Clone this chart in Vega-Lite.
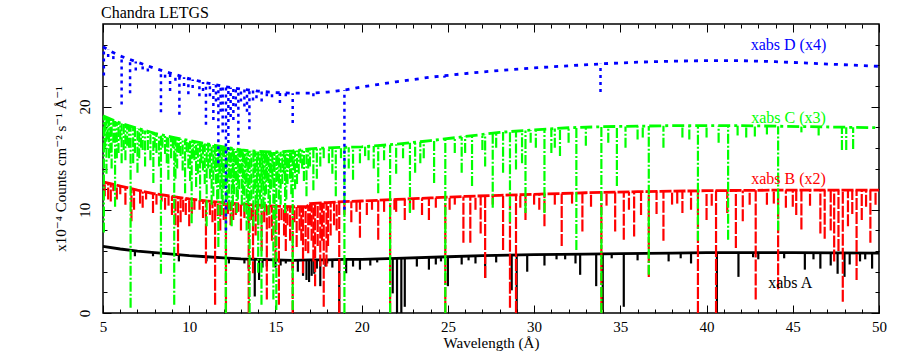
{
"$schema": "https://vega.github.io/schema/vega-lite/v6.json",
"width": 776, "height": 289,
"autosize": "none",
"padding": {"left": 103, "top": 24, "right": 26, "bottom": 41},
"background": "white",
"config": {"view": {"stroke": "black", "strokeWidth": 1.5}, "font": "Times New Roman, Liberation Serif, DejaVu Serif, serif"},
"datasets": {
"cont": [
{"s":"A","x":5,"y":6.45},{"s":"A","x":6,"y":6.2},{"s":"A","x":7,"y":6.0},{"s":"A","x":8,"y":5.85},{"s":"A","x":9,"y":5.7},{"s":"A","x":10,"y":5.55},{"s":"A","x":11,"y":5.45},{"s":"A","x":12,"y":5.35},{"s":"A","x":13,"y":5.25},{"s":"A","x":14,"y":5.2},{"s":"A","x":15,"y":5.15},{"s":"A","x":16,"y":5.1},{"s":"A","x":17,"y":5.15},{"s":"A","x":18,"y":5.15},{"s":"A","x":19,"y":5.2},{"s":"A","x":20,"y":5.2},{"s":"A","x":22,"y":5.3},{"s":"A","x":25,"y":5.45},{"s":"A","x":27,"y":5.55},{"s":"A","x":30,"y":5.65},{"s":"A","x":33,"y":5.7},{"s":"A","x":35,"y":5.75},{"s":"A","x":38,"y":5.8},{"s":"A","x":40,"y":5.85},{"s":"A","x":45,"y":5.85},{"s":"A","x":50,"y":5.8},
{"s":"B","x":5,"y":12.7},{"s":"B","x":6,"y":12.3},{"s":"B","x":7,"y":11.9},{"s":"B","x":8,"y":11.55},{"s":"B","x":9,"y":11.3},{"s":"B","x":10,"y":11.05},{"s":"B","x":11,"y":10.85},{"s":"B","x":12,"y":10.7},{"s":"B","x":13,"y":10.55},{"s":"B","x":14,"y":10.45},{"s":"B","x":15,"y":10.35},{"s":"B","x":16,"y":10.3},{"s":"B","x":16.8,"y":10.3},{"s":"B","x":17,"y":10.6},{"s":"B","x":18,"y":10.7},{"s":"B","x":19,"y":10.8},{"s":"B","x":20,"y":10.85},{"s":"B","x":22,"y":11.0},{"s":"B","x":24,"y":11.15},{"s":"B","x":26,"y":11.3},{"s":"B","x":28,"y":11.4},{"s":"B","x":30,"y":11.5},{"s":"B","x":33,"y":11.65},{"s":"B","x":36,"y":11.75},{"s":"B","x":40,"y":11.85},{"s":"B","x":44,"y":11.9},{"s":"B","x":50,"y":11.9},
{"s":"C","x":5,"y":19.1},{"s":"C","x":6,"y":18.4},{"s":"C","x":7,"y":17.9},{"s":"C","x":8,"y":17.4},{"s":"C","x":9,"y":17.05},{"s":"C","x":10,"y":16.7},{"s":"C","x":11,"y":16.4},{"s":"C","x":12,"y":16.1},{"s":"C","x":13,"y":15.8},{"s":"C","x":14,"y":15.65},{"s":"C","x":15,"y":15.6},{"s":"C","x":16,"y":15.7},{"s":"C","x":17,"y":15.9},{"s":"C","x":18,"y":16.0},{"s":"C","x":20,"y":16.1},{"s":"C","x":22,"y":16.35},{"s":"C","x":24,"y":16.7},{"s":"C","x":26,"y":17.1},{"s":"C","x":28,"y":17.5},{"s":"C","x":30,"y":17.75},{"s":"C","x":32,"y":17.95},{"s":"C","x":34,"y":18.05},{"s":"C","x":38,"y":18.15},{"s":"C","x":42,"y":18.15},{"s":"C","x":46,"y":18.05},{"s":"C","x":50,"y":17.95},
{"s":"D","x":5,"y":25.8},{"s":"D","x":5.5,"y":25.3},{"s":"D","x":6,"y":24.9},{"s":"D","x":7,"y":24.3},{"s":"D","x":8,"y":23.7},{"s":"D","x":9,"y":23.2},{"s":"D","x":10,"y":22.7},{"s":"D","x":11,"y":22.3},{"s":"D","x":12,"y":21.95},{"s":"D","x":13,"y":21.7},{"s":"D","x":14,"y":21.5},{"s":"D","x":15,"y":21.35},{"s":"D","x":16,"y":21.3},{"s":"D","x":17,"y":21.3},{"s":"D","x":18,"y":21.4},{"s":"D","x":19,"y":21.6},{"s":"D","x":20,"y":21.9},{"s":"D","x":22,"y":22.4},{"s":"D","x":24,"y":22.85},{"s":"D","x":26,"y":23.2},{"s":"D","x":28,"y":23.5},{"s":"D","x":30,"y":23.75},{"s":"D","x":32,"y":23.95},{"s":"D","x":34,"y":24.15},{"s":"D","x":36,"y":24.3},{"s":"D","x":38,"y":24.4},{"s":"D","x":40,"y":24.45},{"s":"D","x":42,"y":24.45},{"s":"D","x":44,"y":24.35},{"s":"D","x":46,"y":24.2},{"s":"D","x":48,"y":24.05},{"s":"D","x":50,"y":23.9}
],
"abs": [
{"s":"A","x":6.85,"y":6.03,"y2":5.5},{"s":"A","x":7.9,"y":5.87,"y2":5.5},{"s":"A","x":9.4,"y":5.64,"y2":5.0},{"s":"A","x":11.0,"y":5.45,"y2":5.0},{"s":"A","x":12.3,"y":5.32,"y2":4.8},{"s":"A","x":13.2,"y":5.24,"y2":4.8},{"s":"A","x":13.45,"y":5.23,"y2":4.3},{"s":"A","x":13.8,"y":5.21,"y2":1.6},{"s":"A","x":14.05,"y":5.2,"y2":3.2},{"s":"A","x":14.25,"y":5.19,"y2":4.4},{"s":"A","x":14.5,"y":5.18,"y2":4.5},{"s":"A","x":15.0,"y":5.15,"y2":4.4},{"s":"A","x":15.3,"y":5.14,"y2":4.6},{"s":"A","x":15.6,"y":5.12,"y2":4.8},{"s":"A","x":16.0,"y":5.1,"y2":4.2},{"s":"A","x":16.3,"y":5.11,"y2":4.0},{"s":"A","x":16.6,"y":5.13,"y2":3.6},{"s":"A","x":16.8,"y":5.14,"y2":3.2},{"s":"A","x":16.95,"y":5.15,"y2":3.0},{"s":"A","x":17.1,"y":5.15,"y2":3.6},{"s":"A","x":17.25,"y":5.15,"y2":3.8},{"s":"A","x":17.4,"y":5.15,"y2":4.3},{"s":"A","x":17.6,"y":5.15,"y2":2.6},{"s":"A","x":17.9,"y":5.15,"y2":4.5},{"s":"A","x":18.0,"y":5.15,"y2":4.8},{"s":"A","x":18.3,"y":5.17,"y2":4.4},{"s":"A","x":18.7,"y":5.19,"y2":0},{"s":"A","x":19.1,"y":5.2,"y2":3.85},{"s":"A","x":19.5,"y":5.2,"y2":4.5},{"s":"A","x":19.9,"y":5.2,"y2":4.2},{"s":"A","x":20.5,"y":5.23,"y2":4.6},{"s":"A","x":20.9,"y":5.25,"y2":4.9},{"s":"A","x":21.8,"y":5.29,"y2":1.9},{"s":"A","x":22.05,"y":5.3,"y2":0},{"s":"A","x":22.3,"y":5.32,"y2":0},{"s":"A","x":22.5,"y":5.33,"y2":0.6},{"s":"A","x":23.2,"y":5.36,"y2":4.5},{"s":"A","x":23.9,"y":5.4,"y2":4.2},{"s":"A","x":24.3,"y":5.42,"y2":4.7},{"s":"A","x":24.6,"y":5.43,"y2":5.0},{"s":"A","x":25.0,"y":5.45,"y2":2.6},{"s":"A","x":25.8,"y":5.49,"y2":4.7},{"s":"A","x":26.2,"y":5.51,"y2":5.1},{"s":"A","x":26.6,"y":5.53,"y2":4.8},{"s":"A","x":27.16,"y":5.56,"y2":3.4},{"s":"A","x":27.8,"y":5.58,"y2":4.9},{"s":"A","x":28.7,"y":5.61,"y2":2.2},{"s":"A","x":28.99,"y":5.62,"y2":0},{"s":"A","x":29.6,"y":5.64,"y2":4.0},{"s":"A","x":30.6,"y":5.66,"y2":4.6},{"s":"A","x":31.3,"y":5.67,"y2":5.2},{"s":"A","x":31.8,"y":5.68,"y2":5.2},{"s":"A","x":32.4,"y":5.69,"y2":4.8},{"s":"A","x":32.67,"y":5.7,"y2":3.7},{"s":"A","x":33.6,"y":5.72,"y2":2.6},{"s":"A","x":33.98,"y":5.72,"y2":0.3},{"s":"A","x":34.5,"y":5.74,"y2":5.3},{"s":"A","x":35.2,"y":5.75,"y2":0.6},{"s":"A","x":36.0,"y":5.77,"y2":5.1},{"s":"A","x":37.8,"y":5.8,"y2":5.0},{"s":"A","x":38.5,"y":5.81,"y2":5.3},{"s":"A","x":39.1,"y":5.83,"y2":4.8},{"s":"A","x":40.6,"y":5.85,"y2":0},{"s":"A","x":41.85,"y":5.85,"y2":3.5},{"s":"A","x":42.7,"y":5.85,"y2":5.4},{"s":"A","x":43.0,"y":5.85,"y2":5.2},{"s":"A","x":44.5,"y":5.85,"y2":5.3},{"s":"A","x":45.7,"y":5.84,"y2":4.2},{"s":"A","x":46.2,"y":5.84,"y2":5.2},{"s":"A","x":46.6,"y":5.83,"y2":4.3},{"s":"A","x":47.2,"y":5.83,"y2":4.6},{"s":"A","x":47.6,"y":5.82,"y2":3.8},{"s":"A","x":48.0,"y":5.82,"y2":3.5},{"s":"A","x":48.3,"y":5.82,"y2":4.7},{"s":"A","x":48.9,"y":5.81,"y2":5.0},{"s":"A","x":49.2,"y":5.81,"y2":5.2},{"s":"A","x":49.6,"y":5.8,"y2":4.3},
{"s":"B","x":5.1,"y":12.66,"y2":11.3},{"s":"B","x":5.3,"y":12.58,"y2":11.0},{"s":"B","x":5.45,"y":12.52,"y2":10.8},{"s":"B","x":5.6,"y":12.46,"y2":11.8},{"s":"B","x":5.8,"y":12.38,"y2":11.0},{"s":"B","x":6.0,"y":12.3,"y2":11.5},{"s":"B","x":6.3,"y":12.18,"y2":10.5},{"s":"B","x":6.65,"y":12.04,"y2":8.9},{"s":"B","x":6.8,"y":11.98,"y2":10.0},{"s":"B","x":7.15,"y":11.85,"y2":10.6},{"s":"B","x":7.3,"y":11.78,"y2":10.2},{"s":"B","x":7.5,"y":11.73,"y2":11.0},{"s":"B","x":7.9,"y":11.59,"y2":9.7},{"s":"B","x":8.1,"y":11.53,"y2":10.5},{"s":"B","x":8.4,"y":11.45,"y2":10.8},{"s":"B","x":8.6,"y":11.4,"y2":10.0},{"s":"B","x":8.8,"y":11.35,"y2":10.4},{"s":"B","x":9.0,"y":11.3,"y2":9.5},{"s":"B","x":9.2,"y":11.25,"y2":8.5},{"s":"B","x":9.35,"y":11.21,"y2":5.6},{"s":"B","x":9.5,"y":11.18,"y2":8.8},{"s":"B","x":9.65,"y":11.14,"y2":9.8},{"s":"B","x":9.8,"y":11.1,"y2":9.5},{"s":"B","x":10.0,"y":11.05,"y2":8.4},{"s":"B","x":10.15,"y":11.02,"y2":9.6},{"s":"B","x":10.3,"y":10.99,"y2":10.0},{"s":"B","x":10.6,"y":10.93,"y2":10.0},{"s":"B","x":10.8,"y":10.89,"y2":9.2},{"s":"B","x":10.97,"y":10.86,"y2":4.8},{"s":"B","x":11.2,"y":10.82,"y2":9.5},{"s":"B","x":11.35,"y":10.8,"y2":8.8},{"s":"B","x":11.5,"y":10.78,"y2":0.8},{"s":"B","x":11.65,"y":10.76,"y2":9.4},{"s":"B","x":11.8,"y":10.73,"y2":8.0},{"s":"B","x":12.0,"y":10.7,"y2":9.0},{"s":"B","x":12.13,"y":10.68,"y2":0},{"s":"B","x":12.25,"y":10.66,"y2":9.6},{"s":"B","x":12.4,"y":10.64,"y2":8.5},{"s":"B","x":12.55,"y":10.62,"y2":9.0},{"s":"B","x":12.7,"y":10.6,"y2":9.5},{"s":"B","x":12.85,"y":10.57,"y2":9.8},{"s":"B","x":13.0,"y":10.55,"y2":8.0},{"s":"B","x":13.2,"y":10.53,"y2":9.2},{"s":"B","x":13.45,"y":10.5,"y2":0},{"s":"B","x":13.6,"y":10.49,"y2":9.0},{"s":"B","x":13.7,"y":10.48,"y2":3.85},{"s":"B","x":13.85,"y":10.47,"y2":7.5},{"s":"B","x":14.0,"y":10.45,"y2":8.5},{"s":"B","x":14.2,"y":10.43,"y2":6.0},{"s":"B","x":14.35,"y":10.42,"y2":8.8},{"s":"B","x":14.5,"y":10.4,"y2":1.3},{"s":"B","x":14.65,"y":10.38,"y2":8.2},{"s":"B","x":14.8,"y":10.37,"y2":7.0},{"s":"B","x":15.0,"y":10.35,"y2":5.0},{"s":"B","x":15.2,"y":10.34,"y2":0.8},{"s":"B","x":15.35,"y":10.33,"y2":9.0},{"s":"B","x":15.5,"y":10.33,"y2":7.5},{"s":"B","x":15.6,"y":10.32,"y2":6.0},{"s":"B","x":15.7,"y":10.32,"y2":8.5},{"s":"B","x":15.85,"y":10.31,"y2":7.0},{"s":"B","x":16.0,"y":10.3,"y2":0},{"s":"B","x":16.1,"y":10.3,"y2":8.8},{"s":"B","x":16.23,"y":10.3,"y2":6.4},{"s":"B","x":16.4,"y":10.3,"y2":8.0},{"s":"B","x":16.5,"y":10.3,"y2":7.0},{"s":"B","x":16.6,"y":10.3,"y2":3.85},{"s":"B","x":16.75,"y":10.3,"y2":6.0},{"s":"B","x":16.9,"y":10.45,"y2":5.8},{"s":"B","x":17.0,"y":10.6,"y2":8.5},{"s":"B","x":17.1,"y":10.61,"y2":7.0},{"s":"B","x":17.2,"y":10.62,"y2":5.0},{"s":"B","x":17.3,"y":10.63,"y2":2.6},{"s":"B","x":17.45,"y":10.65,"y2":6.5},{"s":"B","x":17.6,"y":10.66,"y2":4.5},{"s":"B","x":17.7,"y":10.67,"y2":7.0},{"s":"B","x":17.8,"y":10.68,"y2":0.6},{"s":"B","x":17.96,"y":10.7,"y2":4.5},{"s":"B","x":18.05,"y":10.71,"y2":6.5},{"s":"B","x":18.2,"y":10.72,"y2":7.5},{"s":"B","x":18.4,"y":10.74,"y2":8.5},{"s":"B","x":18.55,"y":10.75,"y2":8.0},{"s":"B","x":18.7,"y":10.77,"y2":0},{"s":"B","x":19.0,"y":10.8,"y2":9.5},{"s":"B","x":19.4,"y":10.82,"y2":8.8},{"s":"B","x":19.7,"y":10.84,"y2":9.8},{"s":"B","x":19.9,"y":10.85,"y2":7.3},{"s":"B","x":20.3,"y":10.87,"y2":9.5},{"s":"B","x":20.6,"y":10.89,"y2":10.0},{"s":"B","x":20.96,"y":10.92,"y2":7.1},{"s":"B","x":21.3,"y":10.95,"y2":9.8},{"s":"B","x":21.65,"y":10.97,"y2":0},{"s":"B","x":21.9,"y":10.99,"y2":10.0},{"s":"B","x":22.0,"y":11.0,"y2":9.8},{"s":"B","x":22.5,"y":11.04,"y2":9.0},{"s":"B","x":22.8,"y":11.06,"y2":9.8},{"s":"B","x":23.0,"y":11.08,"y2":10.0},{"s":"B","x":23.5,"y":11.11,"y2":9.5},{"s":"B","x":23.9,"y":11.14,"y2":9.0},{"s":"B","x":24.3,"y":11.17,"y2":10.2},{"s":"B","x":24.85,"y":11.21,"y2":0},{"s":"B","x":25.1,"y":11.23,"y2":10.0},{"s":"B","x":25.4,"y":11.26,"y2":10.5},{"s":"B","x":25.9,"y":11.29,"y2":6.8},{"s":"B","x":26.3,"y":11.32,"y2":6.8},{"s":"B","x":26.6,"y":11.33,"y2":10.0},{"s":"B","x":26.9,"y":11.35,"y2":7.7},{"s":"B","x":27.16,"y":11.36,"y2":3.4},{"s":"B","x":27.6,"y":11.38,"y2":10.5},{"s":"B","x":28.2,"y":11.41,"y2":6.1},{"s":"B","x":28.6,"y":11.43,"y2":0.5},{"s":"B","x":28.95,"y":11.45,"y2":0},{"s":"B","x":29.2,"y":11.46,"y2":10.2},{"s":"B","x":29.5,"y":11.48,"y2":9.0},{"s":"B","x":30.0,"y":11.5,"y2":10.5},{"s":"B","x":30.3,"y":11.51,"y2":10.0},{"s":"B","x":30.6,"y":11.53,"y2":8.4},{"s":"B","x":31.2,"y":11.56,"y2":10.5},{"s":"B","x":31.6,"y":11.58,"y2":6.5},{"s":"B","x":32.2,"y":11.61,"y2":10.6},{"s":"B","x":32.8,"y":11.64,"y2":7.9},{"s":"B","x":33.3,"y":11.66,"y2":10.3},{"s":"B","x":33.9,"y":11.68,"y2":0},{"s":"B","x":34.2,"y":11.69,"y2":10.4},{"s":"B","x":34.7,"y":11.71,"y2":7.9},{"s":"B","x":35.2,"y":11.72,"y2":7.1},{"s":"B","x":35.5,"y":11.73,"y2":10.0},{"s":"B","x":35.8,"y":11.74,"y2":7.4},{"s":"B","x":36.2,"y":11.76,"y2":9.5},{"s":"B","x":36.65,"y":11.77,"y2":3.5},{"s":"B","x":37.1,"y":11.78,"y2":9.6},{"s":"B","x":37.5,"y":11.79,"y2":7.0},{"s":"B","x":38.0,"y":11.8,"y2":10.5},{"s":"B","x":38.3,"y":11.81,"y2":10.6},{"s":"B","x":38.6,"y":11.82,"y2":9.7},{"s":"B","x":39.1,"y":11.83,"y2":10.0},{"s":"B","x":39.5,"y":11.84,"y2":0},{"s":"B","x":40.0,"y":11.85,"y2":9.0},{"s":"B","x":40.3,"y":11.85,"y2":10.4},{"s":"B","x":40.55,"y":11.86,"y2":0},{"s":"B","x":41.2,"y":11.87,"y2":9.7},{"s":"B","x":41.7,"y":11.87,"y2":6.3},{"s":"B","x":42.1,"y":11.88,"y2":8.9},{"s":"B","x":42.5,"y":11.88,"y2":10.5},{"s":"B","x":42.85,"y":11.89,"y2":1.3},{"s":"B","x":43.5,"y":11.89,"y2":10.5},{"s":"B","x":43.9,"y":11.9,"y2":10.6},{"s":"B","x":44.15,"y":11.9,"y2":2.3},{"s":"B","x":44.6,"y":11.9,"y2":10.2},{"s":"B","x":45.0,"y":11.9,"y2":10.3},{"s":"B","x":45.2,"y":11.9,"y2":9.5},{"s":"B","x":45.5,"y":11.9,"y2":8.1},{"s":"B","x":46.0,"y":11.9,"y2":10.4},{"s":"B","x":46.6,"y":11.9,"y2":7.7},{"s":"B","x":46.85,"y":11.9,"y2":7.2},{"s":"B","x":47.2,"y":11.9,"y2":8.0},{"s":"B","x":47.4,"y":11.9,"y2":5.0},{"s":"B","x":47.65,"y":11.9,"y2":6.0},{"s":"B","x":47.9,"y":11.9,"y2":1.1},{"s":"B","x":48.2,"y":11.9,"y2":8.4},{"s":"B","x":48.45,"y":11.9,"y2":9.6},{"s":"B","x":48.7,"y":11.9,"y2":3.2},{"s":"B","x":49.0,"y":11.9,"y2":9.0},{"s":"B","x":49.25,"y":11.9,"y2":10.3},{"s":"B","x":49.5,"y":11.9,"y2":6.8},{"s":"B","x":49.8,"y":11.9,"y2":10.5},
{"s":"C","x":5.05,"y":19.06,"y2":7.8},{"s":"C","x":5.12,"y":19.0,"y2":16.0},{"s":"C","x":5.2,"y":18.96,"y2":13.5},{"s":"C","x":5.27,"y":18.9,"y2":16.8},{"s":"C","x":5.35,"y":18.86,"y2":15.0},{"s":"C","x":5.43,"y":18.8,"y2":15.5},{"s":"C","x":5.5,"y":18.75,"y2":14.0},{"s":"C","x":5.6,"y":18.68,"y2":16.5},{"s":"C","x":5.7,"y":18.61,"y2":10.3},{"s":"C","x":5.8,"y":18.54,"y2":15.0},{"s":"C","x":5.9,"y":18.47,"y2":15.5},{"s":"C","x":6.0,"y":18.4,"y2":16.8},{"s":"C","x":6.08,"y":18.36,"y2":14.5},{"s":"C","x":6.2,"y":18.3,"y2":15.8},{"s":"C","x":6.3,"y":18.25,"y2":14.8},{"s":"C","x":6.4,"y":18.2,"y2":16.2},{"s":"C","x":6.5,"y":18.15,"y2":16.0},{"s":"C","x":6.6,"y":18.1,"y2":0.5},{"s":"C","x":6.75,"y":18.02,"y2":14.5},{"s":"C","x":6.85,"y":17.98,"y2":15.5},{"s":"C","x":7.0,"y":17.9,"y2":13.6},{"s":"C","x":7.1,"y":17.85,"y2":15.0},{"s":"C","x":7.2,"y":17.8,"y2":16.0},{"s":"C","x":7.3,"y":17.75,"y2":15.8},{"s":"C","x":7.44,"y":17.68,"y2":14.2},{"s":"C","x":7.6,"y":17.6,"y2":15.8},{"s":"C","x":7.75,"y":17.52,"y2":14.8},{"s":"C","x":7.92,"y":17.44,"y2":12.6},{"s":"C","x":8.0,"y":17.4,"y2":16.0},{"s":"C","x":8.1,"y":17.36,"y2":15.5},{"s":"C","x":8.25,"y":17.3,"y2":14.2},{"s":"C","x":8.36,"y":17.26,"y2":3.8},{"s":"C","x":8.45,"y":17.22,"y2":16.0},{"s":"C","x":8.6,"y":17.16,"y2":15.4},{"s":"C","x":8.7,"y":17.12,"y2":14.5},{"s":"C","x":8.79,"y":17.08,"y2":12.9},{"s":"C","x":8.95,"y":17.02,"y2":15.0},{"s":"C","x":9.05,"y":17.02,"y2":16.0},{"s":"C","x":9.13,"y":17.0,"y2":0.8},{"s":"C","x":9.2,"y":16.98,"y2":13.0},{"s":"C","x":9.3,"y":16.95,"y2":14.0},{"s":"C","x":9.4,"y":16.92,"y2":15.5},{"s":"C","x":9.5,"y":16.88,"y2":15.2},{"s":"C","x":9.62,"y":16.83,"y2":13.8},{"s":"C","x":9.76,"y":16.78,"y2":11.6},{"s":"C","x":9.85,"y":16.75,"y2":15.6},{"s":"C","x":9.95,"y":16.72,"y2":14.0},{"s":"C","x":10.05,"y":16.68,"y2":12.8},{"s":"C","x":10.14,"y":16.66,"y2":8.7},{"s":"C","x":10.22,"y":16.63,"y2":15.0},{"s":"C","x":10.3,"y":16.61,"y2":14.8},{"s":"C","x":10.4,"y":16.58,"y2":12.2},{"s":"C","x":10.5,"y":16.55,"y2":13.5},{"s":"C","x":10.63,"y":16.51,"y2":10.9},{"s":"C","x":10.7,"y":16.49,"y2":14.5},{"s":"C","x":10.8,"y":16.46,"y2":13.8},{"s":"C","x":10.9,"y":16.43,"y2":12.5},{"s":"C","x":11.01,"y":16.4,"y2":8.4},{"s":"C","x":11.1,"y":16.37,"y2":14.0},{"s":"C","x":11.2,"y":16.34,"y2":13.0},{"s":"C","x":11.3,"y":16.31,"y2":10.5},{"s":"C","x":11.4,"y":16.28,"y2":11.3},{"s":"C","x":11.48,"y":16.26,"y2":13.8},{"s":"C","x":11.55,"y":16.24,"y2":12.5},{"s":"C","x":11.62,"y":16.22,"y2":11.0},{"s":"C","x":11.69,"y":16.19,"y2":6.4},{"s":"C","x":11.75,"y":16.18,"y2":13.5},{"s":"C","x":11.8,"y":16.16,"y2":12.0},{"s":"C","x":11.88,"y":16.14,"y2":9.5},{"s":"C","x":11.94,"y":16.12,"y2":10.5},{"s":"C","x":12.02,"y":16.09,"y2":12.0},{"s":"C","x":12.12,"y":16.06,"y2":0},{"s":"C","x":12.2,"y":16.04,"y2":11.0},{"s":"C","x":12.3,"y":16.01,"y2":10.0},{"s":"C","x":12.38,"y":15.99,"y2":13.0},{"s":"C","x":12.46,"y":15.96,"y2":8.4},{"s":"C","x":12.53,"y":15.94,"y2":10.5},{"s":"C","x":12.6,"y":15.92,"y2":11.5},{"s":"C","x":12.68,"y":15.9,"y2":12.8},{"s":"C","x":12.75,"y":15.88,"y2":9.7},{"s":"C","x":12.82,"y":15.86,"y2":11.0},{"s":"C","x":12.9,"y":15.83,"y2":12.0},{"s":"C","x":12.97,"y":15.81,"y2":13.5},{"s":"C","x":13.05,"y":15.79,"y2":10.5},{"s":"C","x":13.12,"y":15.78,"y2":11.5},{"s":"C","x":13.2,"y":15.77,"y2":9.8},{"s":"C","x":13.27,"y":15.76,"y2":12.5},{"s":"C","x":13.33,"y":15.75,"y2":8.0},{"s":"C","x":13.42,"y":15.73,"y2":9.0},{"s":"C","x":13.5,"y":15.72,"y2":0},{"s":"C","x":13.6,"y":15.71,"y2":11.0},{"s":"C","x":13.72,"y":15.69,"y2":8.4},{"s":"C","x":13.78,"y":15.68,"y2":12.0},{"s":"C","x":13.85,"y":15.67,"y2":10.5},{"s":"C","x":13.93,"y":15.66,"y2":9.5},{"s":"C","x":14.0,"y":15.65,"y2":3.9},{"s":"C","x":14.1,"y":15.64,"y2":11.0},{"s":"C","x":14.19,"y":15.64,"y2":0.8},{"s":"C","x":14.24,"y":15.64,"y2":12.5},{"s":"C","x":14.3,"y":15.64,"y2":10.3},{"s":"C","x":14.38,"y":15.63,"y2":9.8},{"s":"C","x":14.45,"y":15.63,"y2":11.5},{"s":"C","x":14.52,"y":15.62,"y2":12.8},{"s":"C","x":14.6,"y":15.62,"y2":9.5},{"s":"C","x":14.68,"y":15.61,"y2":10.5},{"s":"C","x":14.75,"y":15.61,"y2":12.0},{"s":"C","x":14.82,"y":15.6,"y2":13.0},{"s":"C","x":14.88,"y":15.6,"y2":1.3},{"s":"C","x":14.95,"y":15.6,"y2":9.0},{"s":"C","x":15.05,"y":15.6,"y2":0.3},{"s":"C","x":15.12,"y":15.61,"y2":12.8},{"s":"C","x":15.2,"y":15.62,"y2":11.0},{"s":"C","x":15.3,"y":15.63,"y2":10.5},{"s":"C","x":15.4,"y":15.64,"y2":12.5},{"s":"C","x":15.48,"y":15.65,"y2":13.5},{"s":"C","x":15.56,"y":15.66,"y2":9.7},{"s":"C","x":15.63,"y":15.66,"y2":11.0},{"s":"C","x":15.7,"y":15.67,"y2":12.5},{"s":"C","x":15.78,"y":15.68,"y2":14.0},{"s":"C","x":15.85,"y":15.69,"y2":13.0},{"s":"C","x":15.92,"y":15.7,"y2":11.5},{"s":"C","x":16.0,"y":15.7,"y2":0.3},{"s":"C","x":16.07,"y":15.71,"y2":13.8},{"s":"C","x":16.14,"y":15.73,"y2":12.0},{"s":"C","x":16.25,"y":15.75,"y2":12.5},{"s":"C","x":16.35,"y":15.77,"y2":13.5},{"s":"C","x":16.45,"y":15.79,"y2":14.5},{"s":"C","x":16.55,"y":15.81,"y2":14.0},{"s":"C","x":16.65,"y":15.83,"y2":12.8},{"s":"C","x":16.8,"y":15.86,"y2":11.3},{"s":"C","x":16.9,"y":15.88,"y2":14.0},{"s":"C","x":17.0,"y":15.9,"y2":14.2},{"s":"C","x":17.2,"y":15.92,"y2":11.9},{"s":"C","x":17.4,"y":15.94,"y2":13.0},{"s":"C","x":17.6,"y":15.96,"y2":14.2},{"s":"C","x":17.8,"y":15.98,"y2":15.0},{"s":"C","x":18.1,"y":16.0,"y2":14.5},{"s":"C","x":18.3,"y":16.02,"y2":13.5},{"s":"C","x":18.5,"y":16.03,"y2":11.3},{"s":"C","x":18.8,"y":16.04,"y2":15.0},{"s":"C","x":19.0,"y":16.05,"y2":0},{"s":"C","x":19.25,"y":16.06,"y2":14.0},{"s":"C","x":19.5,"y":16.08,"y2":12.9},{"s":"C","x":19.9,"y":16.1,"y2":14.5},{"s":"C","x":20.2,"y":16.12,"y2":15.2},{"s":"C","x":20.4,"y":16.15,"y2":14.8},{"s":"C","x":20.7,"y":16.18,"y2":14.0},{"s":"C","x":20.96,"y":16.22,"y2":11.6},{"s":"C","x":21.3,"y":16.26,"y2":14.8},{"s":"C","x":21.65,"y":16.31,"y2":0},{"s":"C","x":22.0,"y":16.35,"y2":13.5},{"s":"C","x":22.4,"y":16.42,"y2":15.0},{"s":"C","x":22.8,"y":16.49,"y2":9.7},{"s":"C","x":23.1,"y":16.54,"y2":13.6},{"s":"C","x":23.4,"y":16.6,"y2":14.5},{"s":"C","x":23.6,"y":16.63,"y2":15.0},{"s":"C","x":24.2,"y":16.74,"y2":12.6},{"s":"C","x":24.85,"y":16.87,"y2":0},{"s":"C","x":25.4,"y":16.98,"y2":15.5},{"s":"C","x":25.8,"y":17.06,"y2":13.6},{"s":"C","x":26.0,"y":17.1,"y2":15.5},{"s":"C","x":26.4,"y":17.18,"y2":12.3},{"s":"C","x":27.0,"y":17.3,"y2":15.8},{"s":"C","x":27.16,"y":17.33,"y2":14.2},{"s":"C","x":27.6,"y":17.42,"y2":10.2},{"s":"C","x":27.8,"y":17.45,"y2":16.0},{"s":"C","x":28.2,"y":17.53,"y2":13.6},{"s":"C","x":28.6,"y":17.58,"y2":8.8},{"s":"C","x":28.95,"y":17.62,"y2":13.9},{"s":"C","x":29.3,"y":17.66,"y2":14.5},{"s":"C","x":29.5,"y":17.69,"y2":9.7},{"s":"C","x":29.8,"y":17.73,"y2":16.5},{"s":"C","x":30.1,"y":17.76,"y2":16.0},{"s":"C","x":30.6,"y":17.81,"y2":9.7},{"s":"C","x":31.0,"y":17.85,"y2":15.5},{"s":"C","x":31.2,"y":17.87,"y2":16.0},{"s":"C","x":31.5,"y":17.9,"y2":15.2},{"s":"C","x":32.0,"y":17.95,"y2":16.5},{"s":"C","x":32.45,"y":17.97,"y2":6.1},{"s":"C","x":33.0,"y":18.0,"y2":16.2},{"s":"C","x":33.9,"y":18.05,"y2":0},{"s":"C","x":34.3,"y":18.06,"y2":16.5},{"s":"C","x":34.8,"y":18.07,"y2":12.3},{"s":"C","x":35.3,"y":18.08,"y2":16.0},{"s":"C","x":36.0,"y":18.1,"y2":16.8},{"s":"C","x":36.3,"y":18.11,"y2":17.0},{"s":"C","x":36.65,"y":18.12,"y2":3.7},{"s":"C","x":37.5,"y":18.14,"y2":16.0},{"s":"C","x":38.6,"y":18.15,"y2":17.0},{"s":"C","x":39.0,"y":18.15,"y2":16.8},{"s":"C","x":39.5,"y":18.15,"y2":7.0},{"s":"C","x":40.0,"y":18.15,"y2":17.0},{"s":"C","x":40.7,"y":18.15,"y2":16.5},{"s":"C","x":41.25,"y":18.15,"y2":7.1},{"s":"C","x":41.8,"y":18.15,"y2":17.2},{"s":"C","x":42.3,"y":18.14,"y2":17.0},{"s":"C","x":42.8,"y":18.13,"y2":17.1},{"s":"C","x":43.5,"y":18.12,"y2":17.3},{"s":"C","x":44.15,"y":18.1,"y2":8.0},{"s":"C","x":45.5,"y":18.06,"y2":17.5},{"s":"C","x":46.5,"y":18.04,"y2":17.2},{"s":"C","x":47.85,"y":18.0,"y2":15.8},{"s":"C","x":48.1,"y":18.0,"y2":15.8},{"s":"C","x":48.5,"y":17.99,"y2":15.9},
{"s":"D","x":5.05,"y":25.75,"y2":23.0},{"s":"D","x":5.3,"y":25.5,"y2":24.8},{"s":"D","x":5.6,"y":25.22,"y2":24.6},{"s":"D","x":6.08,"y":24.85,"y2":20.2},{"s":"D","x":6.57,"y":24.56,"y2":21.3},{"s":"D","x":6.9,"y":24.36,"y2":23.5},{"s":"D","x":7.3,"y":24.12,"y2":23.6},{"s":"D","x":7.6,"y":23.94,"y2":23.4},{"s":"D","x":8.36,"y":23.52,"y2":19.45},{"s":"D","x":8.6,"y":23.4,"y2":22.8},{"s":"D","x":8.89,"y":23.26,"y2":21.5},{"s":"D","x":9.2,"y":23.1,"y2":22.5},{"s":"D","x":9.43,"y":22.99,"y2":19.2},{"s":"D","x":9.7,"y":22.85,"y2":22.0},{"s":"D","x":9.95,"y":22.73,"y2":21.2},{"s":"D","x":10.2,"y":22.62,"y2":21.8},{"s":"D","x":10.59,"y":22.46,"y2":21.0},{"s":"D","x":10.8,"y":22.38,"y2":21.5},{"s":"D","x":10.97,"y":22.31,"y2":18.25},{"s":"D","x":11.2,"y":22.23,"y2":21.0},{"s":"D","x":11.4,"y":22.16,"y2":18.7},{"s":"D","x":11.55,"y":22.11,"y2":20.5},{"s":"D","x":11.69,"y":22.06,"y2":14.5},{"s":"D","x":11.82,"y":22.01,"y2":19.5},{"s":"D","x":11.94,"y":21.97,"y2":17.5},{"s":"D","x":12.13,"y":21.92,"y2":8.0},{"s":"D","x":12.27,"y":21.88,"y2":15.8},{"s":"D","x":12.4,"y":21.85,"y2":19.0},{"s":"D","x":12.56,"y":21.81,"y2":18.7},{"s":"D","x":12.7,"y":21.78,"y2":20.0},{"s":"D","x":12.85,"y":21.74,"y2":16.3},{"s":"D","x":13.0,"y":21.7,"y2":20.5},{"s":"D","x":13.2,"y":21.66,"y2":20.0},{"s":"D","x":13.35,"y":21.63,"y2":19.5},{"s":"D","x":13.49,"y":21.6,"y2":17.8},{"s":"D","x":13.7,"y":21.56,"y2":20.6},{"s":"D","x":13.9,"y":21.52,"y2":20.8},{"s":"D","x":14.2,"y":21.47,"y2":20.5},{"s":"D","x":14.5,"y":21.43,"y2":21.0},{"s":"D","x":14.8,"y":21.38,"y2":20.9},{"s":"D","x":15.26,"y":21.34,"y2":20.35},{"s":"D","x":15.6,"y":21.32,"y2":21.0},{"s":"D","x":16.0,"y":21.3,"y2":18.4},{"s":"D","x":17.2,"y":21.32,"y2":21.0},{"s":"D","x":19.0,"y":21.6,"y2":10.0},{"s":"D","x":24.8,"y":22.99,"y2":22.8},{"s":"D","x":33.85,"y":24.14,"y2":21.4}
],
"lab": [
{"s":"D","t":"xabs D (x4)","x":44.75,"y":25.95},
{"s":"C","t":"xabs C (x3)","x":44.75,"y":18.9},
{"s":"B","t":"xabs B (x2)","x":44.75,"y":13.0},
{"s":"A","t":"xabs A","x":44.85,"y":2.9}
],
"head": [
{"t":"Chandra LETGS","x":5,"y":28}
]
},
"resolve": {"axis": {"x": "independent", "y": "independent"}},
"layer": [
{"data": {"name": "abs"}, "transform": [{"filter": "datum.s === 'A'"}],
 "mark": {"type": "rule", "color": "black", "strokeWidth": 2.2},
 "encoding": {
  "x": {"field": "x", "type": "quantitative", "scale": {"domain": [5, 50], "nice": false, "zero": false},
   "axis": {"orient": "bottom", "values": [5,10,15,20,25,30,35,40,45,50], "tickSize": -8, "tickColor": "black", "tickWidth": 1, "domain": false, "grid": false, "labelFont": "Times New Roman, Liberation Serif, DejaVu Serif, serif", "labelFontSize": 15, "labelColor": "black", "labelPadding": 14, "labelFlush": false, "title": "Wavelength (Å)", "titleFont": "Times New Roman, Liberation Serif, DejaVu Serif, serif", "titleFontSize": 15, "titleFontWeight": "normal", "titleColor": "black", "titlePadding": 1}},
  "y": {"field": "y2", "type": "quantitative", "scale": {"domain": [0, 28], "nice": false, "zero": false},
   "axis": {"orient": "left", "values": [0,10,20], "tickSize": -8, "tickColor": "black", "tickWidth": 1, "domain": false, "grid": false, "labelFont": "Times New Roman, Liberation Serif, DejaVu Serif, serif", "labelFontSize": 15, "labelColor": "black", "labelAngle": 270, "labelAlign": "center", "labelBaseline": "bottom", "labelPadding": 19, "labelFlush": false, "title": "x10⁻⁴ Counts cm⁻² s⁻¹ Å⁻¹", "titleFont": "Times New Roman, Liberation Serif, DejaVu Serif, serif", "titleFontSize": 15, "titleFontWeight": "normal", "titleColor": "black", "titlePadding": 9}},
  "y2": {"field": "y"}}},
{"data": {"name": "cont"}, "transform": [{"filter": "datum.s === 'A'"}],
 "mark": {"type": "line", "color": "black", "strokeWidth": 2.8},
 "encoding": {
  "x": {"field": "x", "type": "quantitative", "scale": {"domain": [5, 50], "nice": false, "zero": false},
   "axis": {"orient": "top", "values": [5,10,15,20,25,30,35,40,45,50], "tickSize": -8, "tickColor": "black", "tickWidth": 1, "domain": false, "grid": false, "labels": false, "title": null}},
  "y": {"field": "y", "type": "quantitative", "scale": {"domain": [0, 28], "nice": false, "zero": false},
   "axis": {"orient": "right", "values": [0,10,20], "tickSize": -8, "tickColor": "black", "tickWidth": 1, "domain": false, "grid": false, "labels": false, "title": null}}}},
{"data": {"name": "abs"}, "transform": [{"filter": "datum.s === 'B'"}],
 "mark": {"type": "rule", "color": "#ff0000", "strokeWidth": 2.2, "strokeDash": [12, 2]},
 "encoding": {
  "x": {"field": "x", "type": "quantitative", "scale": {"domain": [5, 50], "nice": false, "zero": false},
   "axis": {"orient": "bottom", "values": [6,7,8,9,11,12,13,14,16,17,18,19,21,22,23,24,26,27,28,29,31,32,33,34,36,37,38,39,41,42,43,44,46,47,48,49], "tickSize": -4, "tickColor": "black", "tickWidth": 1, "domain": false, "grid": false, "labels": false, "title": null}},
  "y": {"field": "y2", "type": "quantitative", "scale": {"domain": [0, 28], "nice": false, "zero": false},
   "axis": {"orient": "left", "values": [2,4,6,8,12,14,16,18,22,24,26], "tickSize": -4, "tickColor": "black", "tickWidth": 1, "domain": false, "grid": false, "labels": false, "title": null}},
  "y2": {"field": "y"}}},
{"data": {"name": "cont"}, "transform": [{"filter": "datum.s === 'B'"}],
 "mark": {"type": "line", "color": "#ff0000", "strokeWidth": 2.8, "strokeDash": [12, 2]},
 "encoding": {
  "x": {"field": "x", "type": "quantitative", "scale": {"domain": [5, 50], "nice": false, "zero": false},
   "axis": {"orient": "top", "values": [6,7,8,9,11,12,13,14,16,17,18,19,21,22,23,24,26,27,28,29,31,32,33,34,36,37,38,39,41,42,43,44,46,47,48,49], "tickSize": -4, "tickColor": "black", "tickWidth": 1, "domain": false, "grid": false, "labels": false, "title": null}},
  "y": {"field": "y", "type": "quantitative", "scale": {"domain": [0, 28], "nice": false, "zero": false},
   "axis": {"orient": "right", "values": [2,4,6,8,12,14,16,18,22,24,26], "tickSize": -4, "tickColor": "black", "tickWidth": 1, "domain": false, "grid": false, "labels": false, "title": null}}}},
{"data": {"name": "abs"}, "transform": [{"filter": "datum.s === 'C'"}],
 "mark": {"type": "rule", "color": "#00ff00", "strokeWidth": 2.2, "strokeDash": [10, 2, 2, 2]},
 "encoding": {
  "x": {"field": "x", "type": "quantitative", "scale": {"domain": [5, 50], "nice": false, "zero": false}, "axis": null},
  "y": {"field": "y2", "type": "quantitative", "scale": {"domain": [0, 28], "nice": false, "zero": false}, "axis": null},
  "y2": {"field": "y"}}},
{"data": {"name": "cont"}, "transform": [{"filter": "datum.s === 'C'"}],
 "mark": {"type": "line", "color": "#00ff00", "strokeWidth": 2.8, "strokeDash": [12, 4, 3, 4]},
 "encoding": {
  "x": {"field": "x", "type": "quantitative", "scale": {"domain": [5, 50], "nice": false, "zero": false}, "axis": null},
  "y": {"field": "y", "type": "quantitative", "scale": {"domain": [0, 28], "nice": false, "zero": false}, "axis": null}}},
{"data": {"name": "abs"}, "transform": [{"filter": "datum.s === 'D'"}],
 "mark": {"type": "rule", "color": "#0000ff", "strokeWidth": 2.5, "strokeDash": [3, 4]},
 "encoding": {
  "x": {"field": "x", "type": "quantitative", "scale": {"domain": [5, 50], "nice": false, "zero": false}, "axis": null},
  "y": {"field": "y2", "type": "quantitative", "scale": {"domain": [0, 28], "nice": false, "zero": false}, "axis": null},
  "y2": {"field": "y"}}},
{"data": {"name": "cont"}, "transform": [{"filter": "datum.s === 'D'"}],
 "mark": {"type": "line", "color": "#0000ff", "strokeWidth": 2.8, "strokeDash": [4, 6]},
 "encoding": {
  "x": {"field": "x", "type": "quantitative", "scale": {"domain": [5, 50], "nice": false, "zero": false}, "axis": null},
  "y": {"field": "y", "type": "quantitative", "scale": {"domain": [0, 28], "nice": false, "zero": false}, "axis": null}}},
{"data": {"name": "lab"},
 "mark": {"type": "text", "font": "Times New Roman, Liberation Serif, DejaVu Serif, serif", "fontSize": 16, "align": "center", "baseline": "middle"},
 "encoding": {
  "x": {"field": "x", "type": "quantitative", "scale": {"domain": [5, 50], "nice": false, "zero": false}, "axis": null},
  "y": {"field": "y", "type": "quantitative", "scale": {"domain": [0, 28], "nice": false, "zero": false}, "axis": null},
  "text": {"field": "t"},
  "color": {"field": "s", "type": "nominal", "scale": {"domain": ["A","B","C","D"], "range": ["#000000","#ff0000","#00ff00","#0000ff"]}, "legend": null}}},
{"data": {"name": "head"},
 "mark": {"type": "text", "font": "Times New Roman, Liberation Serif, DejaVu Serif, serif", "fontSize": 16, "align": "left", "baseline": "alphabetic", "dx": -2, "dy": -6, "color": "black", "clip": false},
 "encoding": {
  "x": {"field": "x", "type": "quantitative", "scale": {"domain": [5, 50], "nice": false, "zero": false}, "axis": null},
  "y": {"field": "y", "type": "quantitative", "scale": {"domain": [0, 28], "nice": false, "zero": false}, "axis": null},
  "text": {"field": "t"}}}
]
}
